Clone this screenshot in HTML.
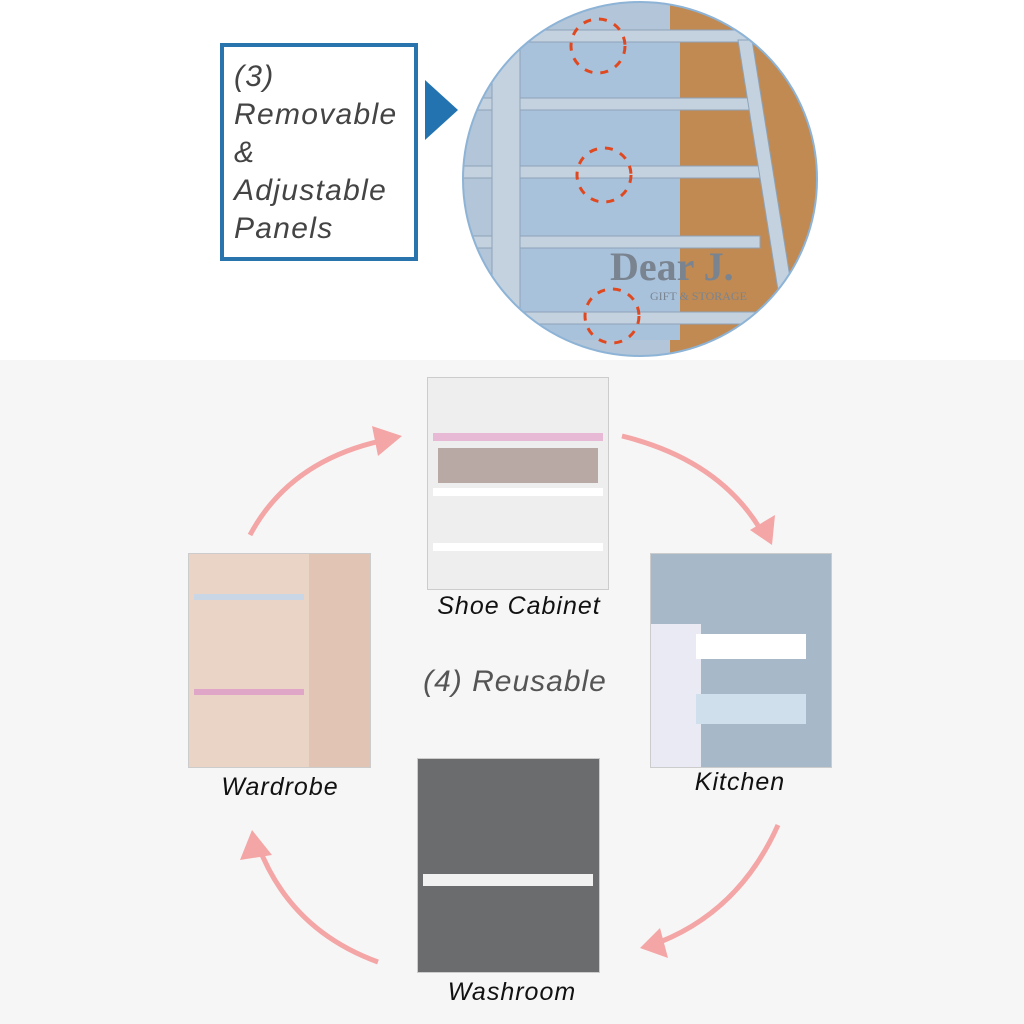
<!DOCTYPE html>
<html><head><style>
body{margin:0;width:1024px;height:1024px;background:#fff;position:relative;overflow:hidden;font-family:"Liberation Sans",sans-serif}
.a{position:absolute}
.lbl{position:absolute;font-style:italic;font-size:25px;letter-spacing:1px;color:#111;text-align:center}
</style></head><body>
<div class="a" style="left:0;top:360px;width:1024px;height:664px;background:#f7f6f6"></div>
<div class="a" style="left:220px;top:43px;width:190px;height:210px;border:4px solid #2a74ad;background:#fff"></div>
<div class="a" style="left:234px;top:58px;font-style:italic;font-size:30px;letter-spacing:1.3px;line-height:38px;color:#444">(3)<br>Removable<br>&amp;<br>Adjustable<br>Panels</div>
<svg class="a" style="left:0;top:0" width="1024" height="1024">
<polygon points="425,80 458,110 425,140" fill="#2273b0"/>
<defs><clipPath id="c"><ellipse cx="640" cy="179" rx="177" ry="177"/></clipPath></defs>
<g clip-path="url(#c)">
<rect x="460" y="0" width="360" height="360" fill="#b3c5d8"/>
<rect x="670" y="0" width="150" height="360" fill="#c08a52"/>
<rect x="520" y="40" width="160" height="300" fill="#a9c2dc"/>
<g fill="#c4d2e0" stroke="#8ea3b8">
<rect x="460" y="30" width="300" height="12"/><rect x="460" y="98" width="300" height="12"/>
<rect x="460" y="166" width="300" height="12"/><rect x="460" y="236" width="300" height="12"/>
<rect x="460" y="312" width="300" height="12"/>
<rect x="492" y="50" width="28" height="320"/>
<polygon points="738,40 752,40 800,340 786,340"/>
</g>
<text x="610" y="280" font-family="Liberation Serif" font-size="40" font-weight="bold" fill="#7a8490">Dear J.</text>
<text x="650" y="300" font-family="Liberation Serif" font-size="12" fill="#7a8490">GIFT &amp; STORAGE</text>
</g>
<ellipse cx="640" cy="179" rx="177" ry="177" fill="none" stroke="#8db3d6" stroke-width="2"/>
<g fill="none" stroke="#e0491f" stroke-width="3" stroke-dasharray="8,8">
<circle cx="598" cy="46" r="27"/><circle cx="604" cy="175" r="27"/><circle cx="612" cy="316" r="27"/></g>
<g fill="none" stroke="#f4a5a5" stroke-width="5">
<path d="M250,535 Q290,460 385,440"/><path d="M622,436 Q720,460 762,532"/>
<path d="M778,825 Q740,910 660,942"/><path d="M378,962 Q290,930 258,845"/></g>
<g fill="#f4a5a5">
<polygon points="402,436 372,426 378,456"/><polygon points="772,545 750,530 775,515"/>
<polygon points="640,948 660,928 668,958"/><polygon points="252,830 240,860 272,855"/></g>
</svg>
<div class="a" style="left:427px;top:377px;width:180px;height:211px;background:#eee;border:1px solid #ccc">
<div class="a" style="left:5px;top:55px;width:170px;height:8px;background:#e7b9d4"></div>
<div class="a" style="left:5px;top:110px;width:170px;height:8px;background:#fff"></div>
<div class="a" style="left:5px;top:165px;width:170px;height:8px;background:#fff"></div>
<div class="a" style="left:10px;top:70px;width:160px;height:35px;background:#b9a9a5"></div></div>
<div class="a" style="left:650px;top:553px;width:180px;height:213px;background:#a7b8c8;border:1px solid #ccc">
<div class="a" style="left:0;top:70px;width:50px;height:143px;background:#eaeaf5"></div>
<div class="a" style="left:45px;top:80px;width:110px;height:25px;background:#fff"></div>
<div class="a" style="left:45px;top:140px;width:110px;height:30px;background:#cfe0ec"></div></div>
<div class="a" style="left:188px;top:553px;width:181px;height:213px;background:#e9d4c6;border:1px solid #ccc">
<div class="a" style="left:120px;top:0;width:61px;height:213px;background:#e2c4b4"></div>
<div class="a" style="left:5px;top:40px;width:110px;height:6px;background:#c9d6e6"></div>
<div class="a" style="left:5px;top:135px;width:110px;height:6px;background:#e0a6c8"></div></div>
<div class="a" style="left:417px;top:758px;width:181px;height:213px;background:#6a6c6e;border:1px solid #ccc">
<div class="a" style="left:5px;top:115px;width:170px;height:12px;background:#f1f1f1"></div></div>
<div class="lbl" style="left:419px;top:592px;width:200px">Shoe Cabinet</div>
<div class="lbl" style="left:640px;top:768px;width:200px">Kitchen</div>
<div class="lbl" style="left:180px;top:773px;width:200px">Wardrobe</div>
<div class="lbl" style="left:412px;top:978px;width:200px">Washroom</div>
<div class="lbl" style="left:390px;top:665px;width:250px;font-size:30px;color:#555">(4) Reusable</div>
</body></html>
